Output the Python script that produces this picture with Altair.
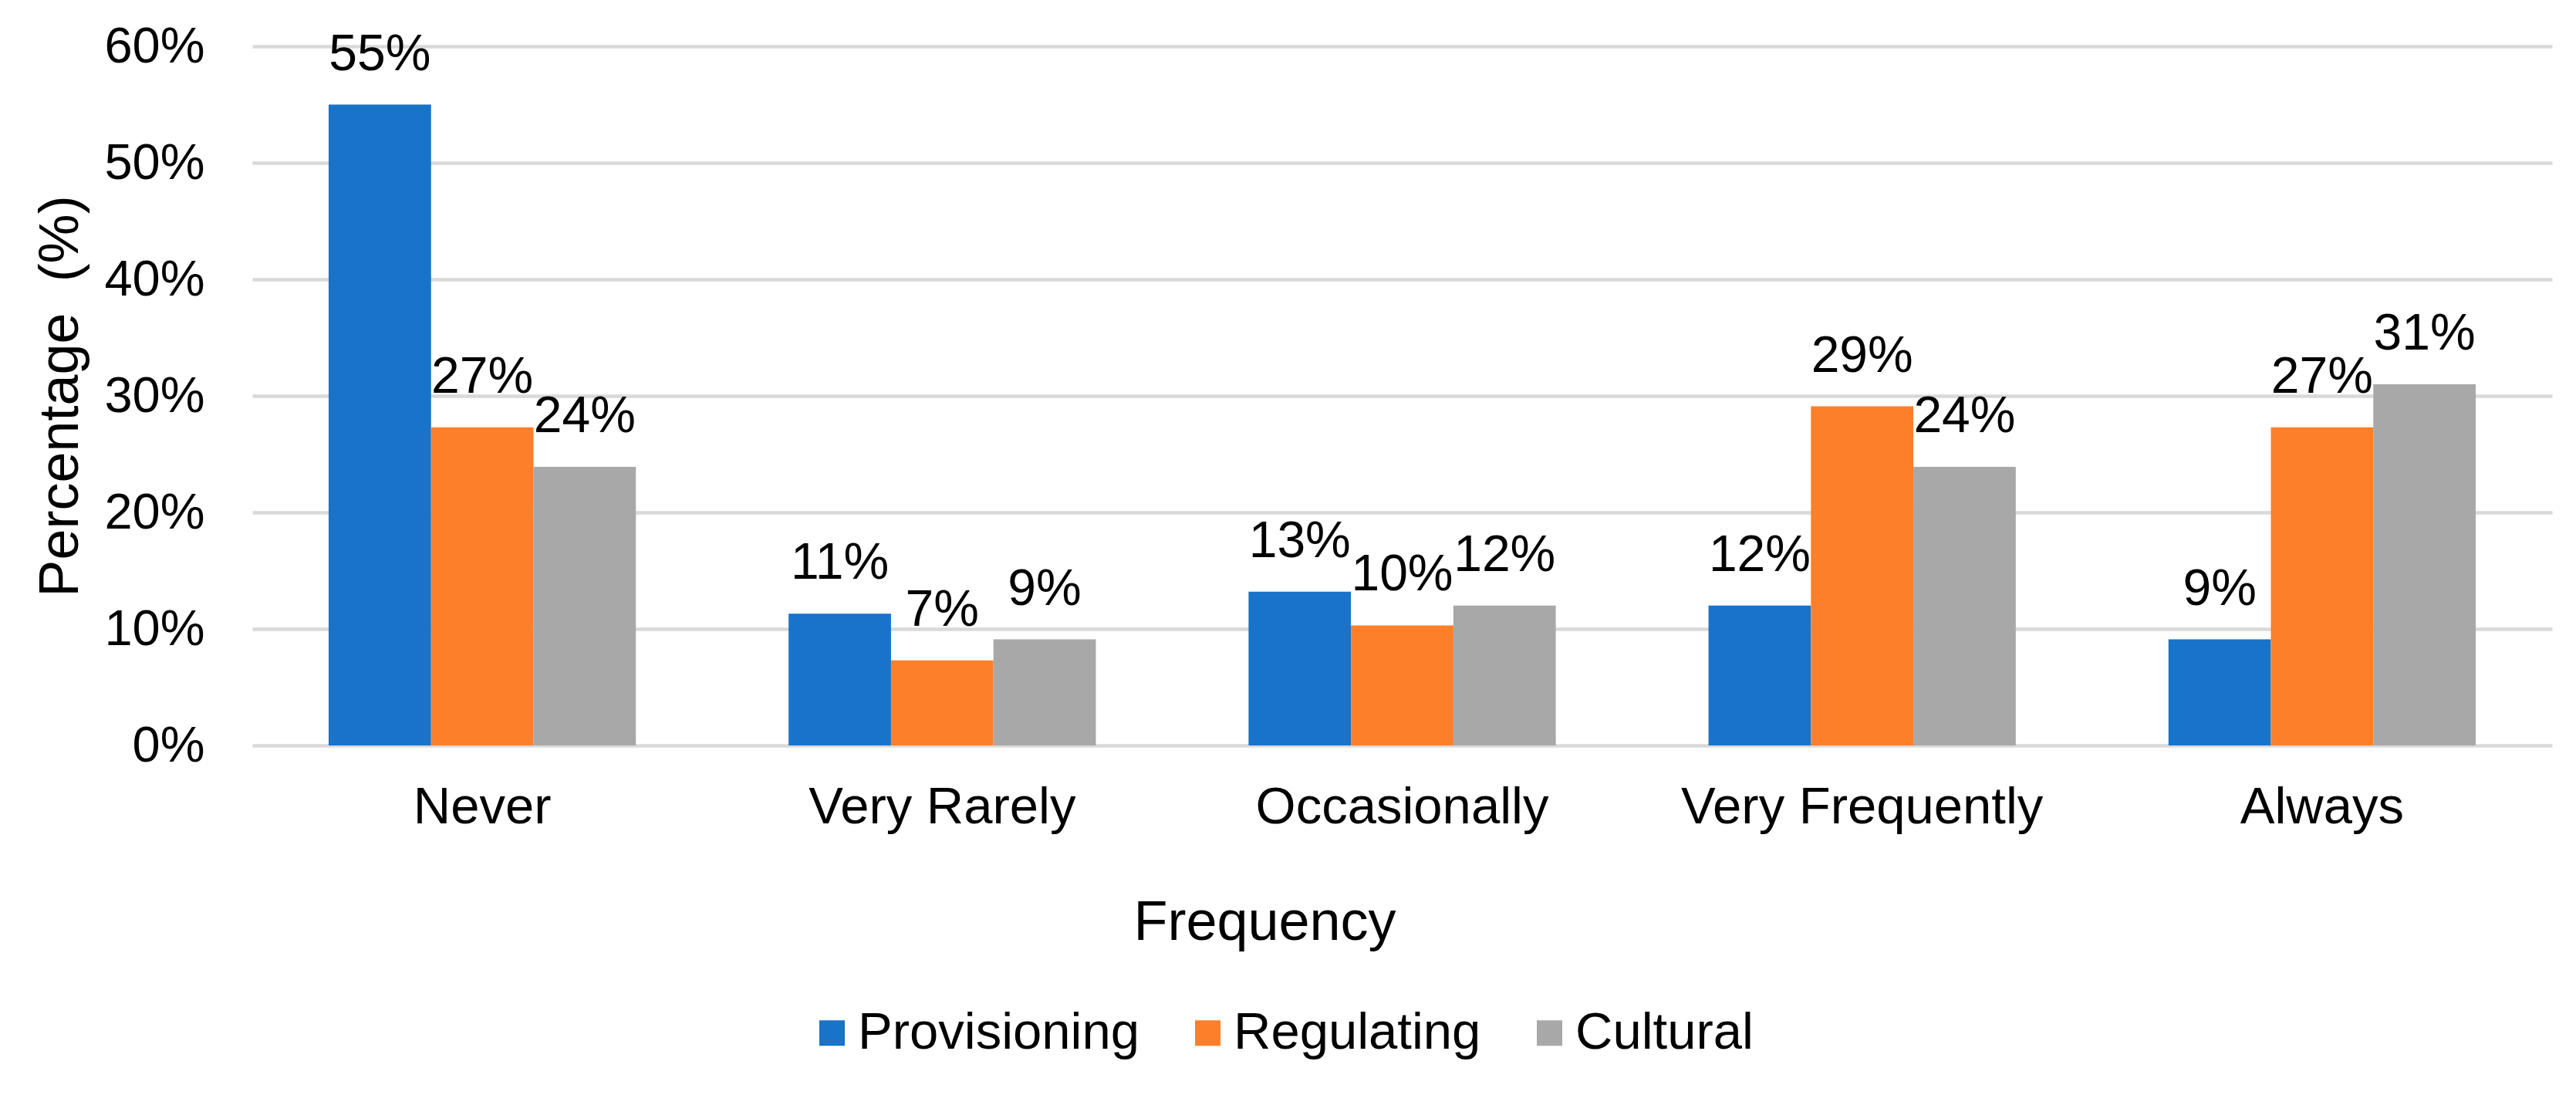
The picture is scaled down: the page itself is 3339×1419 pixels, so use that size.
import altair as alt
import pandas as pd

categories = ["Never", "Very Rarely", "Occasionally", "Very Frequently", "Always"]
series = ["Provisioning", "Regulating", "Cultural"]
provisioning = [0.550, 0.113, 0.132, 0.120, 0.091]
regulating = [0.273, 0.073, 0.103, 0.291, 0.273]
cultural = [0.239, 0.091, 0.120, 0.239, 0.310]
colors = ["#1873C9", "#FE7F29", "#A8A8A8"]
y_ticks = [0.0, 0.1, 0.2, 0.3, 0.4, 0.5, 0.6]

rows = []
for s, vals in zip(series, [provisioning, regulating, cultural]):
    for c, v in zip(categories, vals):
        rows.append({"Frequency": c, "Service": s, "Value": v})
df = pd.DataFrame(rows)

FONT = "Liberation Sans"

x_enc = alt.X(
    "Frequency:N",
    sort=categories,
    scale=alt.Scale(paddingInner=0.332, paddingOuter=0.166),
    axis=alt.Axis(
        title="Frequency",
        labelAngle=0,
        labelFontSize=67,
        labelFont=FONT,
        labelColor="black",
        labelBaseline="alphabetic",
        labelPadding=100,
        labelLimit=0,
        ticks=False,
        tickSize=0,
        domain=False,
        titleFontSize=72,
        titleFont=FONT,
        titleFontWeight="normal",
        titleColor="black",
        titleX=1312,
        titleY=251,
        titleBaseline="alphabetic",
        titleAlign="center",
    ),
)
xoff_enc = alt.XOffset("Service:N", sort=series, scale=alt.Scale(paddingInner=0, paddingOuter=0))
y_enc = alt.Y(
    "Value:Q",
    scale=alt.Scale(domain=[0, 0.6], nice=False),
    axis=alt.Axis(
        values=y_ticks,
        format=".0%",
        title="Percentage\u00a0 (%)",
        labelFontSize=65,
        labelFont=FONT,
        labelColor="black",
        labelPadding=62,
        labelLimit=0,
        ticks=False,
        tickSize=0,
        domain=False,
        gridColor="#D9D9D9",
        gridWidth=4.5,
        titleFontSize=72,
        titleFont=FONT,
        titleFontWeight="normal",
        titleColor="black",
        titleAngle=270,
        titleX=-227,
        titleY=453,
        titleBaseline="alphabetic",
        titleAlign="center",
    ),
)

bars = alt.Chart(df).mark_bar().encode(
    x=x_enc,
    xOffset=xoff_enc,
    y=y_enc,
    color=alt.Color(
        "Service:N",
        sort=series,
        title=None,
        scale=alt.Scale(domain=series, range=colors),
        legend=alt.Legend(
            orient="none",
            direction="horizontal",
            legendX=718,
            legendY=1245,
            symbolType="square",
            symbolSize=1089,
            symbolStrokeWidth=0,
            labelFontSize=67,
            labelFont=FONT,
            labelColor="black",
            labelLimit=0,
            labelOffset=0,
            columnPadding=55,
            padding=0,
        ),
    ),
)

labels = alt.Chart(df).mark_text(
    baseline="alphabetic", dy=-45, fontSize=66, font=FONT, color="black"
).encode(
    x=alt.X("Frequency:N", sort=categories),
    xOffset=alt.XOffset("Service:N", sort=series),
    y=alt.Y("Value:Q"),
    text=alt.Text("Value:Q", format=".0%"),
)

chart = alt.layer(bars, labels).properties(
    width=2981,
    height=906,
    autosize="none",
    padding={"left": 319, "top": 52, "right": 23, "bottom": 445},
    background="white",
).configure_view(strokeWidth=0)

chart.save("out.html", embed_options={"renderer": "svg", "actions": False})
